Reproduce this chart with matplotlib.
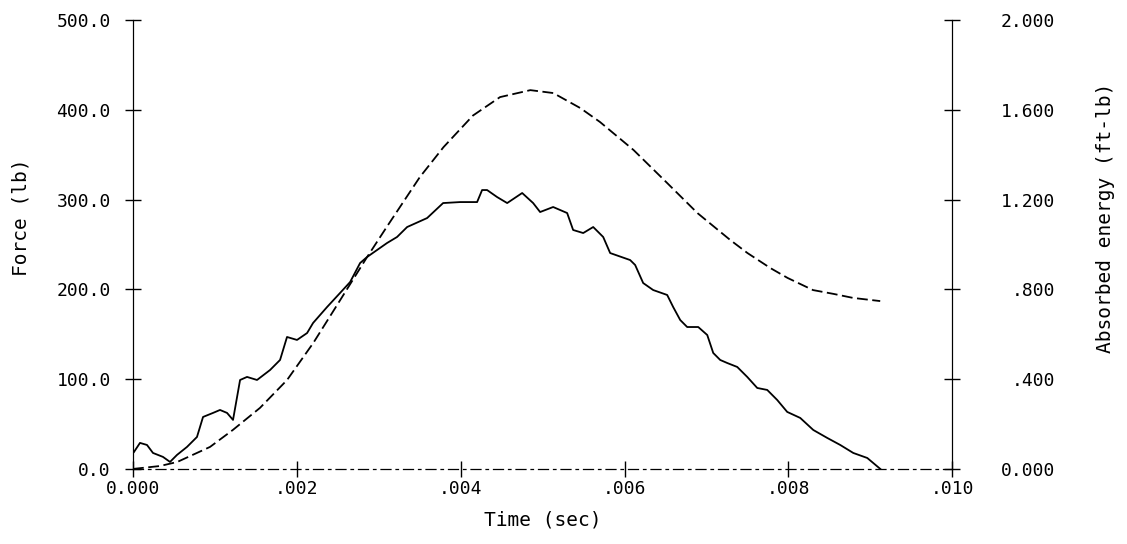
import matplotlib
matplotlib.use("Agg")
import matplotlib.pyplot as plt

# force trace (lb) vs time (sec)
t_force = [0.0000122, 0.0000855, 0.000171, 0.000244, 0.000366, 0.000452, 0.000537,
           0.000659, 0.000781, 0.000855, 0.000977, 0.001062, 0.001148, 0.001221,
           0.001307, 0.001392, 0.001514, 0.001673, 0.001795, 0.001880, 0.002002,
           0.002125, 0.002198, 0.002369, 0.002527, 0.002650, 0.002772, 0.002857,
           0.002979, 0.003101, 0.003223, 0.003346, 0.003590, 0.003785, 0.003993,
           0.004200, 0.004261, 0.004322, 0.004444, 0.004567, 0.004750, 0.004884,
           0.004969, 0.005128, 0.005299, 0.005372, 0.005495, 0.005617, 0.005739,
           0.005824, 0.006068, 0.006129, 0.006227, 0.006349, 0.006520, 0.006593,
           0.006679, 0.006764, 0.006899, 0.007009, 0.007082, 0.007167, 0.007253,
           0.007375, 0.007497, 0.007619, 0.007741, 0.007863, 0.007985, 0.008144,
           0.008303, 0.008474, 0.008632, 0.008791, 0.008962, 0.009121]
force = [18.9, 29.0, 26.7, 17.8, 13.4, 7.8, 15.6,
         24.5, 35.6, 57.9, 62.4, 65.7, 62.4, 54.6,
         99.1, 102.5, 99.1, 110.2, 121.4, 147.0, 143.7,
         151.4, 162.6, 180.4, 196.0, 208.2, 229.4, 236.1,
         243.9, 251.7, 258.4, 269.5, 279.5, 296.2, 297.3,
         297.3, 310.7, 310.7, 302.9, 296.2, 307.4, 296.2,
         286.2, 291.8, 285.1, 266.2, 262.8, 269.5, 258.4,
         240.5, 232.7, 227.2, 207.1, 199.3, 193.8, 180.4,
         165.9, 158.1, 158.1, 149.2, 129.2, 121.4, 118.0,
         113.6, 102.5, 90.2, 88.0, 76.8, 63.5, 56.8,
         43.4, 34.5, 26.7, 17.8, 12.2, 0.0]

# absorbed energy (ft-lb) vs time (sec)
t_energy = [0.0, 0.00033, 0.00054, 0.00094, 0.00122, 0.00155, 0.00188, 0.00220,
            0.00253, 0.00285, 0.00310, 0.00330, 0.00350, 0.00379, 0.00415, 0.00448,
            0.00485, 0.00513, 0.00546, 0.00570, 0.00611, 0.00652, 0.00689, 0.00729,
            0.00750, 0.00778, 0.00799, 0.00830, 0.00855, 0.00879, 0.00912]
energy = [0.0, 0.013, 0.031, 0.098, 0.174, 0.272, 0.396, 0.561,
          0.753, 0.940, 1.080, 1.190, 1.300, 1.434, 1.575, 1.657,
          1.688, 1.675, 1.608, 1.546, 1.421, 1.274, 1.140, 1.020,
          0.962, 0.895, 0.851, 0.797, 0.780, 0.762, 0.748]

x_ticks = [0.0, 0.002, 0.004, 0.006, 0.008, 0.010]
x_labels = ["0.000", ".002", ".004", ".006", ".008", ".010"]
f_ticks = [0, 100, 200, 300, 400, 500]
f_labels = ["0.0", "100.0", "200.0", "300.0", "400.0", "500.0"]
e_ticks = [0.0, 0.4, 0.8, 1.2, 1.6, 2.0]
e_labels = ["0.000", ".400", ".800", "1.200", "1.600", "2.000"]

plt.rcParams["font.family"] = "DejaVu Sans Mono"

fig = plt.figure(figsize=(11.27, 5.44), dpi=100)
ax = fig.add_axes([0.118, 0.138, 0.727, 0.825])
ax2 = ax.twinx()

ax.plot(t_force, force, color="black", lw=1.3)
ax2.plot(t_energy, energy, color="black", lw=1.3, linestyle=(0, (6, 2.5)))

ax.set_xlim(0, 0.010)
ax.set_ylim(0, 500)
ax2.set_ylim(0, 2.0)

ax.set_xticks(x_ticks)
ax.set_xticklabels(x_labels)
ax.set_yticks(f_ticks)
ax.set_yticklabels(f_labels)
ax2.set_yticks(e_ticks)
ax2.set_yticklabels(e_labels, ha="right")

for a in (ax, ax2):
    a.spines["top"].set_visible(False)
    a.tick_params(direction="inout", length=12, width=1, labelsize=13, pad=10)
ax2.tick_params(axis="y", pad=68)
ax.spines["bottom"].set_linestyle((0, (8, 4, 2, 4)))
ax.spines["bottom"].set_linewidth(0.9)
ax2.spines["bottom"].set_visible(False)
ax.tick_params(axis="x", pad=2)

ax.set_xlabel("Time (sec)", fontsize=14, labelpad=9)
ax.set_ylabel("Force (lb)", fontsize=14)
ax.yaxis.set_label_coords(-0.125, 0.56)
ax2.set_ylabel("Absorbed energy (ft-lb)", fontsize=14)
ax2.yaxis.set_label_coords(1.175, 0.56)

fig.savefig("out.png", dpi=100)
